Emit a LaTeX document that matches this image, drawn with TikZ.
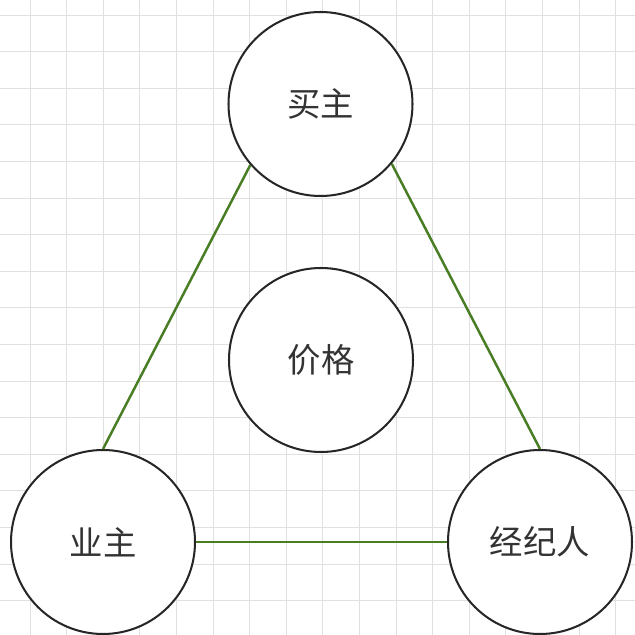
\documentclass[tikz,border=0pt]{standalone}
\usepackage{fontspec}
\newfontfamily\cjk{Noto Sans CJK SC}
\definecolor{linkgreen}{RGB}{72,125,36}
\definecolor{gridgray}{RGB}{224,224,224}
\begin{document}
\begin{tikzpicture}
        \tikzstyle{party}=[circle,line width=1.15pt,draw=black!85,fill=white,minimum size=3.68cm,inner sep=0pt,font=\cjk\fontsize{19}{22}\selectfont,text=black!80]
        \tikzstyle{link}=[draw, line width=1.4pt, linkgreen]
        \useasboundingbox (0,0) rectangle (12.7,12.7);
        \fill[white] (0,0) rectangle (12.7,12.7);
        % grid
        \foreach \i in {0,...,16} {
          \draw[gridgray, line width=0.5pt] (0.6+0.732*\i,0) -- (0.6+0.732*\i,12.7);
          \draw[gridgray, line width=0.5pt] (0,12.4-0.732*\i) -- (12.7,12.4-0.732*\i);
        }
       \begin{scope}
         \node [party] (buyer) at (6.41,10.62) {买主};
         \node [party] (price) at (6.42,5.50) {价格};
         \node [party] (owner) at (2.06,1.86) {业主};
         \node [party] (agent) at (10.80,1.86) {经纪人};

         \path[link] (owner.north) edge (buyer.221);
         \path[link] (buyer.320) edge (agent.north);
         \path[link] (owner.east) edge (agent.west);
        \end{scope}
      \end{tikzpicture}
\end{document}
